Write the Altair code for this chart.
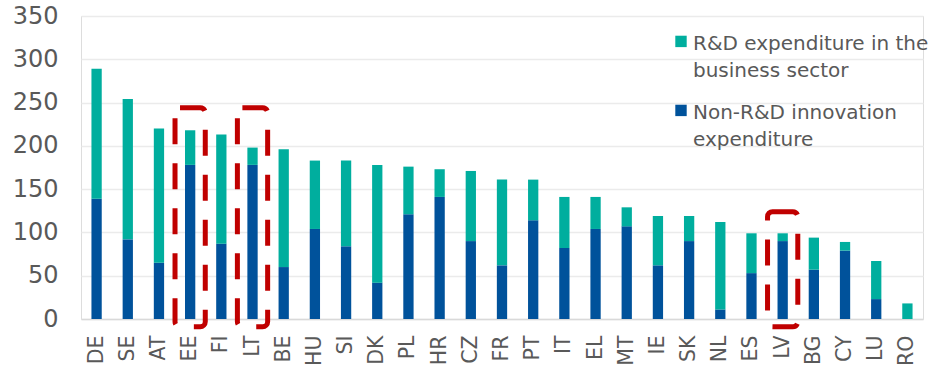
import altair as alt
import pandas as pd

countries = ["DE", "SE", "AT", "EE", "FI", "LT", "BE", "HU", "SI", "DK", "PL", "HR", "CZ",
             "FR", "PT", "IT", "EL", "MT", "IE", "SK", "NL", "ES", "LV", "BG", "CY", "LU", "RO"]
non_rd = [139, 92, 65, 178, 87, 178, 60, 104, 84, 42, 121, 141, 90,
          62, 114, 82, 104, 107, 62, 90, 11, 53, 90, 57, 79, 23, 0]
rd = [150, 162, 155, 40, 126, 20, 136, 79, 99, 136, 55, 32, 81,
      99, 47, 59, 37, 22, 57, 29, 101, 46, 9, 37, 10, 44, 18]

series_rd = "R&D expenditure in the business sector"
series_non = "Non-R&D innovation expenditure"
legend_lines = {
    series_rd: ["R&D expenditure in the", "business sector"],
    series_non: ["Non-R&D innovation", "expenditure"],
}

highlight_countries = ["EE", "LT", "LV"]
highlight_top = [244, 244, 124]
highlight_bottom = [-9, -9, -9]

y_ticks = [0, 50, 100, 150, 200, 250, 300, 350]

rows = []
for c, a, b in zip(countries, non_rd, rd):
    rows.append({"country": c, "series": series_non, "value": a, "stack_order": 0})
    rows.append({"country": c, "series": series_rd, "value": b, "stack_order": 1})
df = pd.DataFrame(rows)

hl = pd.DataFrame({"country": highlight_countries, "top": highlight_top, "bottom": highlight_bottom})

FONT = "DejaVu Sans"
GREY = "#595959"

label_expr = " : ".join(
    [f"datum.label == '{k}' ? {v!r}" for k, v in legend_lines.items()]
) + " : datum.label"

x_enc = alt.X(
    "country:N",
    sort=countries,
    scale=alt.Scale(paddingInner=0, paddingOuter=0),
    axis=alt.Axis(
        title=None, labelAngle=-90, labelAlign="right", labelBaseline="middle",
        labelFontSize=20.5, labelColor=GREY, labelFont=FONT, labelPadding=16,
        ticks=False, domain=True, domainColor="#d9d9d9", domainWidth=1.5, grid=False,
    ),
)

y_enc = alt.Y(
    "value:Q",
    stack="zero",
    scale=alt.Scale(domain=[0, 350], nice=False),
    axis=alt.Axis(
        values=y_ticks, title=None, labelFontSize=24, labelColor=GREY, labelFont=FONT,
        labelPadding=23, ticks=False, domain=False, gridColor="#ebebeb", gridWidth=1.5,
    ),
)

# square legend symbol, drawn a little lower so it sits beside the first label line
legend_symbol = "M-1,0.3 H1 V2.3 H-1 Z"

bars = alt.Chart(df).mark_bar(width=alt.RelativeBandSize(0.33)).encode(
    x=x_enc,
    y=y_enc,
    color=alt.Color(
        "series:N",
        scale=alt.Scale(domain=[series_rd, series_non], range=["#00ae9e", "#00529b"]),
        legend=alt.Legend(
            title=None, orient="none", legendX=590, legendY=8,
            symbolType=legend_symbol, symbolSize=130, symbolStrokeWidth=0,
            labelFont=FONT, labelFontSize=20, labelColor=GREY, labelLimit=400,
            labelExpr=label_expr, labelBaseline="top",
            labelOffset=2, rowPadding=12,
        ),
    ),
    order=alt.Order("stack_order:Q"),
)

boxes = alt.Chart(hl).mark_bar(
    width=alt.RelativeBandSize(0.97),
    fillOpacity=0, stroke="#c00000", strokeWidth=5, strokeDash=[26, 19],
    cornerRadius=5, clip=False,
).encode(
    x=alt.X("country:N", sort=countries),
    y=alt.Y("bottom:Q"),
    y2="top:Q",
)

chart = alt.layer(bars, boxes).properties(
    width=842, height=303,
    autosize=alt.AutoSizeParams(type="none"),
    padding={"left": 81, "top": 16, "right": 9, "bottom": 53},
).configure_view(stroke=None).configure(
    background="white",
    style={"guide-label": {"lineHeight": 27}},
)

chart.save("out.html", embed_options={"renderer": "svg", "actions": False})
